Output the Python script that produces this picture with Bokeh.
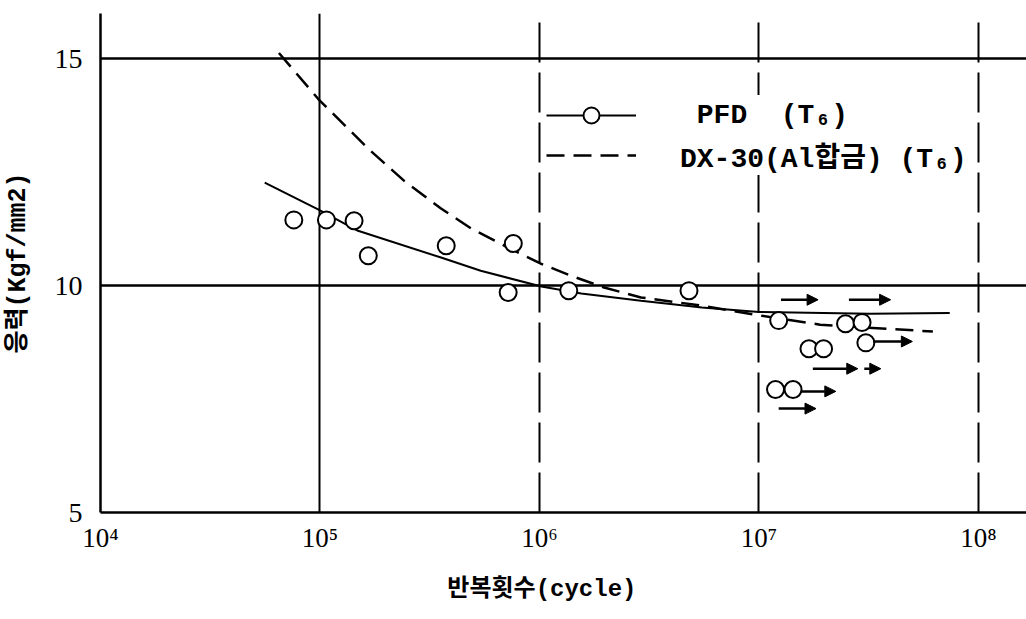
from bokeh.plotting import figure
from bokeh.models import (Range1d, FixedTicker, Grid, Arrow, NormalHead,
                          ColumnDataSource, Legend, LegendItem)
from bokeh.embed import file_html
from bokeh.resources import INLINE

# ---------------- data ----------------
decades = [10000, 100000, 1000000, 10000000, 100000000]
decade_labels = ["10⁴", "10⁵", "10⁶", "10⁷", "10⁸"]
y_ticks = [5, 10, 15]
y_grid_levels = [10, 15]

# PFD (T6) test points
pfd_cycles = [7.6e4, 1.07e5, 1.43e5, 1.66e5, 3.76e5, 7.6e5, 7.2e5, 1.36e6, 4.8e6,
              1.23e7, 2.48e7, 2.95e7, 3.07e7, 1.69e7, 1.97e7, 1.19e7, 1.43e7]
pfd_stress = [11.45, 11.45, 11.43, 10.66, 10.88, 10.93, 9.85, 9.89, 9.89,
              9.23, 9.16, 9.19, 8.74, 8.61, 8.61, 7.71, 7.71]

# PFD fitted S-N curve
pfd_curve_cycles = [5.6e4, 9.8e4, 1.49e5, 3.56e5, 5.4e5, 1.02e6, 1.55e6, 2.9e6,
                    5.5e6, 1.0e7, 3.2e7, 7.4e7]
pfd_curve_stress = [12.27, 11.68, 11.21, 10.62, 10.33, 9.98, 9.83, 9.67,
                    9.52, 9.42, 9.38, 9.40]

# DX-30 (Al alloy) S-N curve
dx_cycles = [6.5e4, 9.8e4, 1.66e5, 2.42e5, 3.56e5, 4.89e5, 7.2e5, 1.02e6, 1.39e6,
             1.97e6, 2.9e6, 5.5e6, 1.02e7, 1.9e7, 3.8e7, 6.2e7]
dx_stress = [15.13, 14.12, 13.02, 12.31, 11.70, 11.26, 10.84, 10.48, 10.22,
             9.96, 9.74, 9.56, 9.34, 9.14, 9.05, 8.99]

# run-out arrows (no failure)
runout_start = [1.26e7, 2.57e7, 3.31e7, 1.76e7, 3.02e7, 1.55e7, 1.23e7]
runout_end = [1.86e7, 3.98e7, 5.0e7, 2.82e7, 3.59e7, 2.24e7, 1.82e7]
runout_stress = [9.69, 9.69, 8.77, 8.17, 8.17, 7.67, 7.29]

x_title = "반복횟수(cycle)"
y_title = "응력(Kgf/mm2)"

# ---------------- figure ----------------
p = figure(width=1026, height=619, x_axis_type="log",
           x_range=Range1d(1e4, 10 ** 8.219), y_range=Range1d(5, 16),
           output_backend="svg", toolbar_location=None,
           min_border_left=99, min_border_right=0,
           min_border_top=13, min_border_bottom=107)
p.outline_line_color = None
p.background_fill_color = "white"

# grids
p.xgrid.visible = False
p.ygrid.ticker = FixedTicker(ticks=y_grid_levels)
p.ygrid.grid_line_color = "black"
p.ygrid.grid_line_width = 2.5
p.ygrid.grid_line_alpha = 1.0

g_solid = Grid(dimension=0, ticker=FixedTicker(ticks=decades[1:2]),
               grid_line_color="black", grid_line_width=2)
g_dash = Grid(dimension=0, ticker=FixedTicker(ticks=decades[2:]),
              grid_line_color="black", grid_line_width=2,
              grid_line_dash="40 10")
p.add_layout(g_solid)
p.add_layout(g_dash)

# axes
for ax in (p.xaxis, p.yaxis):
    ax.axis_line_color = "black"
    ax.axis_line_width = 2.5
    ax.major_tick_line_color = None
    ax.minor_tick_line_color = None
    ax.major_label_text_color = "black"
    ax.axis_label_text_font = "Liberation Mono, Noto Sans CJK KR"
    ax.axis_label_text_font_style = "bold"
    ax.axis_label_text_color = "black"

p.xaxis.ticker = FixedTicker(ticks=decades)
p.xaxis.major_label_overrides = dict(zip(decades, decade_labels))
p.xaxis.major_label_text_font = "Liberation Serif"
p.xaxis.major_label_text_font_size = "27px"
p.xaxis.major_label_standoff = 4
p.xaxis.axis_label = x_title + "\u00a0\u00a0\u00a0"
p.xaxis.axis_label_text_font_size = "24px"
p.xaxis.axis_label_standoff = 20

p.yaxis.ticker = FixedTicker(ticks=y_ticks)
p.yaxis.major_label_text_font = "Liberation Serif"
p.yaxis.major_label_text_font_size = "28px"
p.yaxis.major_label_standoff = 12
p.yaxis.axis_label = y_title
p.yaxis.axis_label_text_font_size = "25px"
p.yaxis.axis_label_standoff = 19

# curves
dx_r = p.line(dx_cycles, dx_stress, line_color="black", line_width=2.5,
              line_dash="18 9")
pfd_line_r = p.line(pfd_curve_cycles, pfd_curve_stress, line_color="black",
                    line_width=2)

# run-out arrows
arrow_src = ColumnDataSource(dict(x0=runout_start, x1=runout_end, y=runout_stress))
p.add_layout(Arrow(end=NormalHead(size=11, fill_color="black", line_color="black"),
                   x_start="x0", y_start="y", x_end="x1", y_end="y",
                   source=arrow_src, line_color="black", line_width=2.5))

# points
pfd_pts_r = p.scatter(pfd_cycles, pfd_stress, marker="circle", size=17,
                      fill_color="white", line_color="black", line_width=2)

# legend
legend = Legend(items=[
    LegendItem(label=" PFD  (T₆)", renderers=[pfd_line_r, pfd_pts_r]),
    LegendItem(label="DX-30(Al합금) (T₆)", renderers=[dx_r]),
], location=(446, 337), orientation="vertical", glyph_width=90, glyph_height=40,
    label_height=40, label_standoff=44, spacing=0, padding=0, margin=0,
    background_fill_color="white", background_fill_alpha=1.0,
    border_line_color=None,
    label_text_font="Liberation Mono, Noto Sans CJK KR",
    label_text_font_size="28px", label_text_font_style="bold",
    label_text_color="black", label_text_baseline="middle")
p.add_layout(legend)

open("out.html", "w").write(file_html(p, INLINE))
